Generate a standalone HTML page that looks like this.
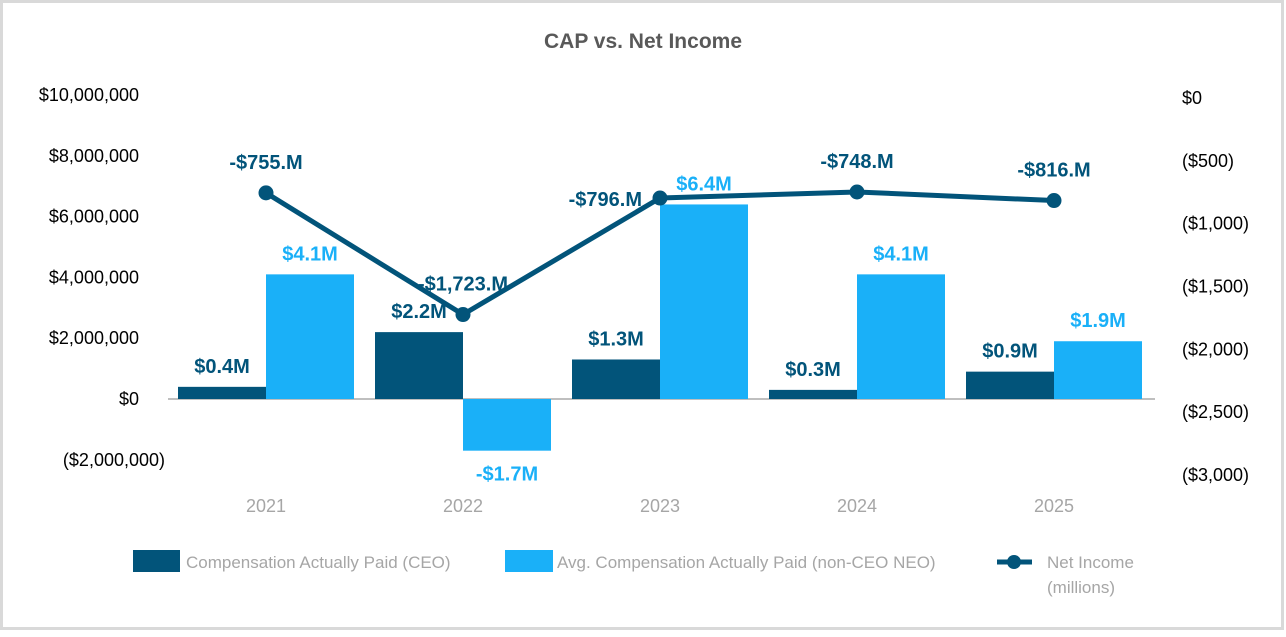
<!DOCTYPE html>
<html><head><meta charset="utf-8"><style>
html,body{margin:0;padding:0;background:#fff;}
body{width:1286px;height:632px;overflow:hidden;font-family:"Liberation Sans",sans-serif;}
</style></head><body>
<svg id="chart" width="1286" height="632" xmlns="http://www.w3.org/2000/svg" font-family="Liberation Sans, sans-serif">
<rect x="1.5" y="1.5" width="1281" height="627" fill="#fff" stroke="#D9D9D9" stroke-width="3"/>
<text x="643" y="48" text-anchor="middle" font-size="21" font-weight="bold" fill="#595959">CAP vs. Net Income</text>
<g id="axes"></g><g id="bars"></g><g id="line"></g><g id="labels"></g>
<g>
<rect x="133" y="550" width="47" height="22" fill="#02547A"/>
<text x="186" y="568" font-size="17" fill="#A6A6A6">Compensation Actually Paid (CEO)</text>
<rect x="505" y="550" width="48" height="22" fill="#1AB0F8"/>
<text x="557" y="568" font-size="17" fill="#A6A6A6">Avg. Compensation Actually Paid (non-CEO NEO)</text>
<line x1="997" y1="562" x2="1032" y2="562" stroke="#02547A" stroke-width="5"/>
<circle cx="1014" cy="562" r="7" fill="#02547A"/>
<text x="1047" y="568" font-size="17" fill="#A6A6A6">Net Income</text>
<text x="1047" y="593" font-size="17" fill="#A6A6A6">(millions)</text>
</g>
</svg>
<script>
const years=["2021","2022","2023","2024","2025"];
const ceo=[0.4,2.2,1.3,0.3,0.9];
const nonCeo=[4.1,-1.7,6.4,4.1,1.9];
const netIncome=[-755,-1723,-796,-748,-816];
const leftTicks=[10000000,8000000,6000000,4000000,2000000,0,-2000000];
const leftTickLabels=["$10,000,000","$8,000,000","$6,000,000","$4,000,000","$2,000,000","$0","($2,000,000)"];
const rightTicks=[0,-500,-1000,-1500,-2000,-2500,-3000];
const rightTickLabels=["$0","($500)","($1,000)","($1,500)","($2,000)","($2,500)","($3,000)"];
const NS="http://www.w3.org/2000/svg";
function yL(m){return 399-m*30.4;}
function yR(v){return 98-v*0.12567;}
function xC(i){return 266+i*197;}
function mk(t,a,p){const e=document.createElementNS(NS,t);for(const k in a)e.setAttribute(k,a[k]);p.appendChild(e);return e;}
const axes=document.getElementById('axes'),bars=document.getElementById('bars'),line=document.getElementById('line'),labels=document.getElementById('labels');
leftTicks.forEach((v,i)=>{const t=mk('text',{x:v<0?165:139,y:yL(v/1e6)+6,'text-anchor':'end','font-size':18,fill:'#000'},axes);t.textContent=leftTickLabels[i];

});
rightTicks.forEach((v,i)=>{const t=mk('text',{x:1182,y:yR(v)+6,'font-size':18,fill:'#000'},axes);t.textContent=rightTickLabels[i];

});
years.forEach((y,i)=>{const t=mk('text',{x:xC(i),y:512,'text-anchor':'middle','font-size':18,fill:'#A6A6A6'},axes);t.textContent=y;

});
function bar(v,x,color,name){const y0=yL(0),y1=yL(v);const r=mk('rect',{x:x,y:Math.min(y0,y1),width:88,height:Math.abs(y1-y0),fill:color},bars);

}
function lab(txt,x,y,color,anchor,name){const t=mk('text',{x:x,y:y,'text-anchor':anchor||'middle','font-size':20,'font-weight':'bold',fill:color},labels);t.textContent=txt;

}
function fmt(v){return (v<0?'-$':'$')+Math.abs(v).toFixed(1)+'M';}
years.forEach((y,i)=>{
 bar(ceo[i],xC(i)-88,'#02547A','bar-ceo-'+y);
 bar(nonCeo[i],xC(i),'#1AB0F8','bar-non-ceo-'+y);
 lab(fmt(ceo[i]),xC(i)-44,(ceo[i]>=0?yL(ceo[i]):yL(0))-14,'#02547A','middle','label-ceo-'+y);
 lab(fmt(nonCeo[i]),xC(i)+44,nonCeo[i]>=0?yL(nonCeo[i])-14:yL(nonCeo[i])+30,'#1AB0F8','middle','label-non-ceo-'+y);
});
mk('line',{x1:168,y1:yL(0),x2:1155,y2:yL(0),stroke:'#7F7F7F','stroke-width':1},axes);
const pts=netIncome.map((v,i)=>xC(i)+','+yR(v)).join(' ');
const pl=mk('polyline',{points:pts,fill:'none',stroke:'#02547A','stroke-width':5,'stroke-linejoin':'round'},line);


netIncome.forEach((v,i)=>{const c=mk('circle',{cx:xC(i),cy:yR(v),r:7.5,fill:'#02547A'},line);


const txt='-$'+Math.abs(v).toLocaleString('en-US')+'.M';
if(i===2) lab(txt,xC(i)-18,yR(v)+8,'#02547A','end','label-net-income-'+years[i]);
else lab(txt,xC(i),yR(v)-24,'#02547A','middle','label-net-income-'+years[i]);});
</script>
</body></html>
